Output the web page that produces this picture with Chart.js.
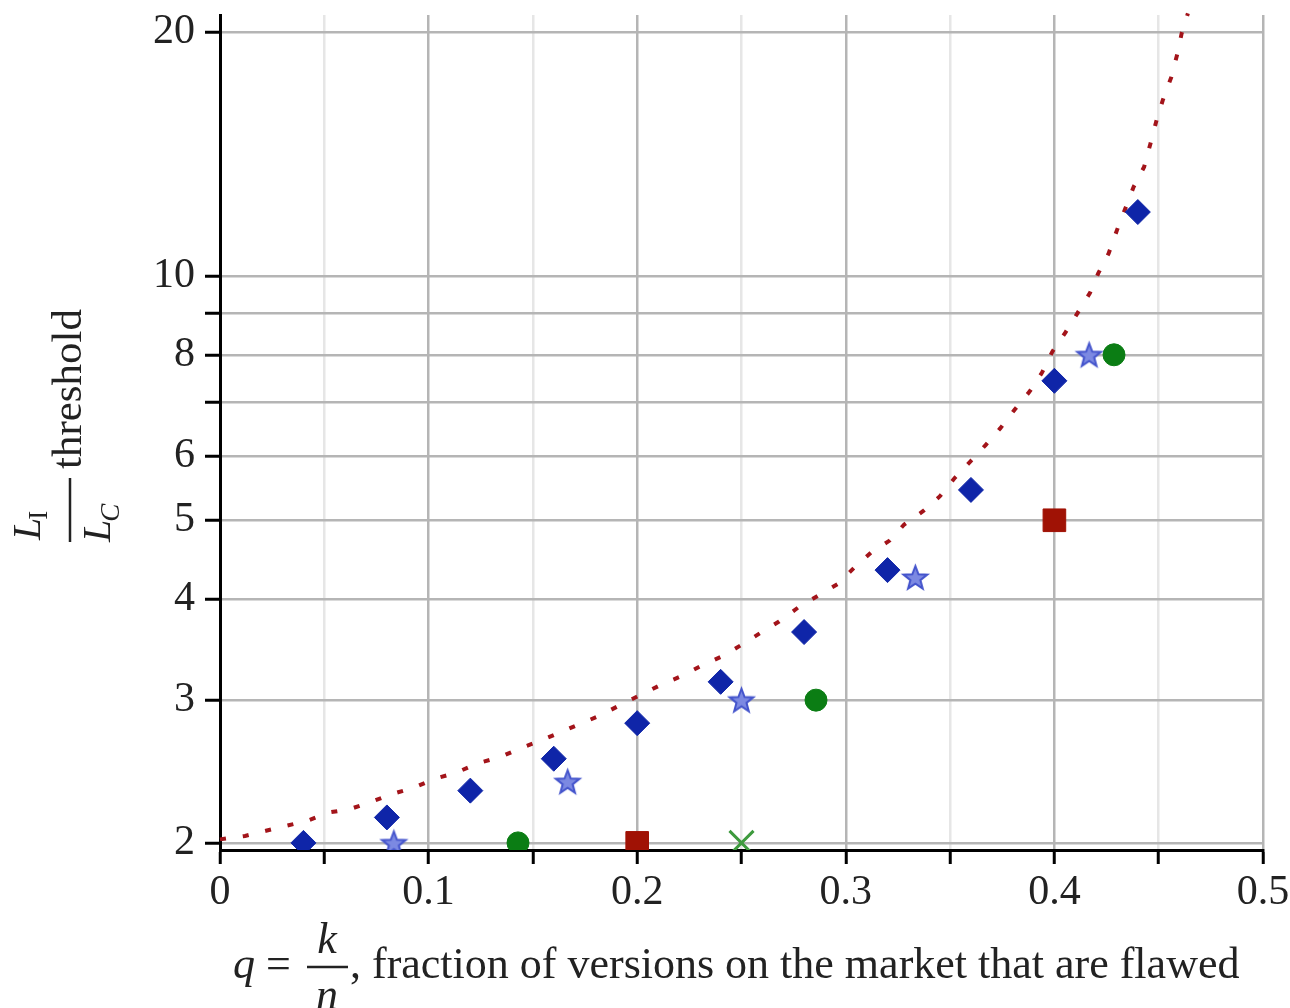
<!DOCTYPE html>
<html>
<head>
<meta charset="utf-8">
<script src="https://cdn.jsdelivr.net/npm/chart.js@4"></script>
<style>
  html, body { margin: 0; padding: 0; background: #fff; }
  #wrap { width: 1290px; height: 1008px; position: relative; }
</style>
</head>
<body>
<div id="wrap"><canvas id="c"></canvas></div>
<script>
// ---- data ----
const curveQ = [0, 0.012, 0.022, 0.032, 0.042, 0.052, 0.062, 0.073, 0.083, 0.093, 0.103, 0.113, 0.124, 0.134, 0.143, 0.153, 0.162, 0.172, 0.182, 0.192, 0.201, 0.211, 0.221, 0.231, 0.241, 0.250, 0.259, 0.268, 0.277, 0.287, 0.296, 0.304, 0.312, 0.321, 0.328, 0.337, 0.345, 0.352, 0.360, 0.367, 0.374, 0.381, 0.388, 0.394, 0.399, 0.405, 0.411, 0.417, 0.421, 0.426, 0.430, 0.438, 0.443, 0.446, 0.449, 0.452, 0.456, 0.459, 0.461, 0.464];
const curveV = [2.02, 2.04, 2.07, 2.10, 2.13, 2.18, 2.20, 2.25, 2.30, 2.34, 2.40, 2.44, 2.51, 2.55, 2.61, 2.67, 2.73, 2.80, 2.87, 2.96, 3.04, 3.13, 3.21, 3.31, 3.40, 3.51, 3.63, 3.75, 3.90, 4.04, 4.17, 4.37, 4.56, 4.72, 4.94, 5.13, 5.35, 5.63, 5.92, 6.19, 6.49, 6.85, 7.20, 7.60, 8.07, 8.50, 9.00, 9.53, 10.08, 10.67, 11.40, 12.89, 13.64, 14.56, 15.58, 16.50, 17.59, 18.83, 19.93, 21.1];

const diamondQ = [0.04, 0.08, 0.12, 0.16, 0.20, 0.24, 0.28, 0.32, 0.36, 0.40, 0.44];
const diamondV = [2.0, 2.15, 2.32, 2.54, 2.81, 3.16, 3.64, 4.34, 5.45, 7.43, 12.0];

const starQ = [1/12, 1/6, 1/4, 1/3, 5/12];
const starV = [2.0, 2.38, 3.0, 4.25, 8.0];

const circleQ = [1/7, 2/7, 3/7];
const circleV = [2.0, 3.0, 8.0];

const squareQ = [0.2, 0.4];
const squareV = [2.0, 5.0];

const crossQ = [0.25];
const crossV = [2.0];

const xTickValues = [0, 0.05, 0.1, 0.15, 0.2, 0.25, 0.3, 0.35, 0.4, 0.45, 0.5];
const xTickLabels = ['0', '', '0.1', '', '0.2', '', '0.3', '', '0.4', '', '0.5'];
const yTickValues = [2, 3, 4, 5, 6, 7, 8, 9, 10, 20];
const yTickLabels = ['2', '3', '4', '5', '6', '', '8', '', '10', '20'];

const xTitleMain = ', fraction of versions on the market that are flawed';
const yTitleWord = 'threshold';

// ---- helpers ----
const pts = (xs, ys) => xs.map((x, i) => ({ x: x, y: ys[i] }));
const SERIF = '"Liberation Serif", "DejaVu Serif", serif';
const TEXT = '#222';

function makeStar(r, fill, stroke) {
  const c = document.createElement('canvas');
  const s = Math.ceil(2 * r + 6);
  c.width = s; c.height = s;
  const g = c.getContext('2d');
  g.beginPath();
  for (let i = 0; i < 10; i++) {
    const a = -Math.PI / 2 + i * Math.PI / 5;
    const rr = (i % 2) ? r * 0.42 : r;
    g.lineTo(s / 2 + rr * Math.cos(a), s / 2 + rr * Math.sin(a) + 1);
  }
  g.closePath();
  g.fillStyle = fill; g.fill();
  g.lineWidth = 2; g.strokeStyle = stroke; g.stroke();
  return c;
}
const starImg = makeStar(12.5, '#7c89e2', '#4454cc');

const titlesPlugin = {
  id: 'titles',
  afterDraw(chart) {
    const ctx = chart.ctx;
    const ca = chart.chartArea;
    ctx.save();
    ctx.fillStyle = TEXT;
    ctx.strokeStyle = TEXT;
    ctx.textBaseline = 'alphabetic';
    // x-axis title
    const xb = ca.bottom + 128; // baseline
    ctx.font = 'italic 44px ' + SERIF;
    ctx.textAlign = 'left';
    ctx.fillText('q', ca.left + 13, xb);
    ctx.font = '44px ' + SERIF;
    ctx.fillText('=', ca.left + 46, xb);
    ctx.lineWidth = 2.5;
    ctx.beginPath();
    ctx.moveTo(ca.left + 87, xb - 11);
    ctx.lineTo(ca.left + 128, xb - 11);
    ctx.stroke();
    ctx.font = 'italic 44px ' + SERIF;
    ctx.textAlign = 'center';
    ctx.fillText('k', ca.left + 107, xb - 25);
    ctx.fillText('n', ca.left + 107, xb + 31);
    ctx.font = '44px ' + SERIF;
    ctx.textAlign = 'left';
    ctx.fillText(xTitleMain, ca.left + 130, xb);

    // y-axis title (rotated)
    ctx.rotate(-Math.PI / 2);
    // rotated coords: (u, v) -> screen (v, -u)
    ctx.textAlign = 'left';
    ctx.lineWidth = 2.5;
    ctx.beginPath();
    ctx.moveTo(-542, 70);
    ctx.lineTo(-478, 70);
    ctx.stroke();
    ctx.font = 'italic 40px ' + SERIF;
    ctx.fillText('L', -540, 40);
    const wL = ctx.measureText('L').width;
    ctx.font = '27px ' + SERIF;
    ctx.fillText('I', -540 + wL - 2, 47);
    ctx.font = 'italic 40px ' + SERIF;
    ctx.fillText('L', -542, 110);
    ctx.font = 'italic 27px ' + SERIF;
    ctx.fillText('C', -542 + wL - 2, 119);
    ctx.font = '43px ' + SERIF;
    ctx.fillText(yTitleWord, -469, 81);
    ctx.restore();
  }
};

const ctxEl = document.getElementById('c');
new Chart(ctxEl, {
  type: 'scatter',
  data: {
    datasets: [
      {
        label: 'diamonds', data: pts(diamondQ, diamondV),
        pointStyle: 'rectRot', pointRadius: 12.5, pointHoverRadius: 12.5,
        backgroundColor: '#0f25a8', borderColor: '#0f25a8', borderWidth: 1
      },
      {
        label: 'stars', data: pts(starQ, starV),
        pointStyle: starImg, pointRadius: 12,
        backgroundColor: '#4b5bd2', borderColor: '#4b5bd2'
      },
      {
        label: 'circles', data: pts(circleQ, circleV),
        pointStyle: 'circle', pointRadius: 11, pointHoverRadius: 11,
        backgroundColor: '#0b7d14', borderColor: '#0b7d14', borderWidth: 1
      },
      {
        label: 'squares', data: pts(squareQ, squareV),
        pointStyle: 'rect', pointRadius: 16, pointHoverRadius: 16,
        backgroundColor: '#a01205', borderColor: '#a01205', borderWidth: 1
      },
      {
        label: 'cross', data: pts(crossQ, crossV),
        pointStyle: 'crossRot', pointRadius: 17, pointHoverRadius: 17,
        backgroundColor: '#3d9a3d', borderColor: '#3d9a3d', borderWidth: 3
      },
      {
        type: 'line', label: 'threshold curve', data: pts(curveQ, curveV),
        showLine: true, pointRadius: 0, pointHoverRadius: 0,
        borderColor: '#a3141a', borderWidth: 4, borderDash: [6, 17],
        borderCapStyle: 'butt', tension: 0, fill: false, clip: false
      }
    ]
  },
  options: {
    responsive: true,
    maintainAspectRatio: false,
    animation: false,
    events: [],
    layout: { autoPadding: false, padding: { left: 0, top: 15, right: 27, bottom: 0 } },
    plugins: {
      legend: { display: false },
      tooltip: { enabled: false },
      title: { display: false }
    },
    scales: {
      x: {
        type: 'linear', position: 'bottom', min: 0, max: 0.5,
        afterBuildTicks: s => { s.ticks = xTickValues.map(v => ({ value: v })); },
        afterFit: s => { s.height = 158; s.paddingLeft = 0; s.paddingRight = 0; },
        ticks: {
          autoSkip: false, maxRotation: 0, minRotation: 0, padding: 4,
          color: TEXT, font: { family: SERIF, size: 42 },
          callback: (v, i) => xTickLabels[i]
        },
        grid: {
          color: c => (c.tick && xTickLabels[c.index] !== '') ? '#b5b5b5' : '#e6e6e6',
          lineWidth: 2.5,
          drawTicks: true, tickLength: 14, tickColor: '#000', tickWidth: 3
        },
        border: { display: true, color: '#000', width: 3 }
      },
      y: {
        type: 'logarithmic', position: 'left', min: 1.96, max: 21,
        afterBuildTicks: s => { s.ticks = yTickValues.map(v => ({ value: v })); },
        afterFit: s => { s.width = 220; s.paddingTop = 0; s.paddingBottom = 0; },
        ticks: {
          autoSkip: false, padding: 10,
          color: TEXT, font: { family: SERIF, size: 42 },
          callback: (v, i) => yTickLabels[i]
        },
        grid: {
          color: '#b5b5b5', lineWidth: 2.5,
          drawTicks: true, tickLength: 15, tickColor: '#000', tickWidth: 3
        },
        border: { display: true, color: '#000', width: 3 }
      }
    }
  },
  plugins: [titlesPlugin]
});
</script>
</body>
</html>
